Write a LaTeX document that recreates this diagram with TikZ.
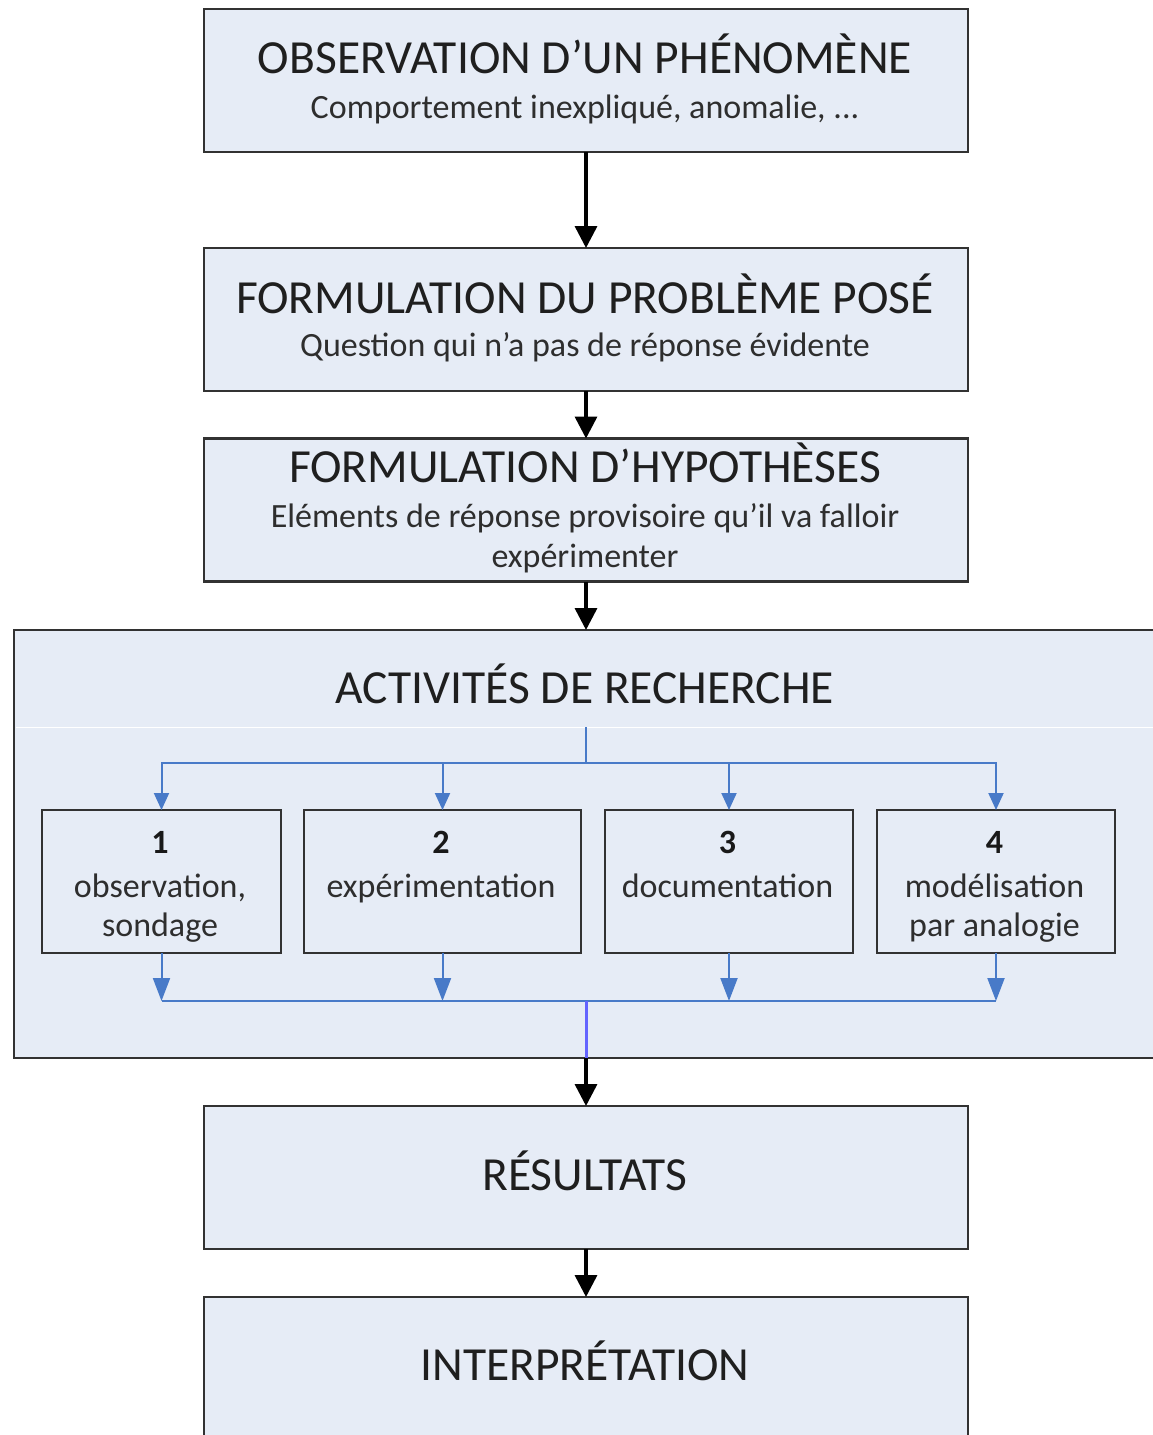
\documentclass[tikz,border=0pt]{standalone}
\usepackage{fontspec}
\setmainfont{Carlito}
\usetikzlibrary{arrows.meta}
\definecolor{boxfill}{RGB}{230,236,246}
\definecolor{boxdraw}{RGB}{50,50,50}
\definecolor{connblue}{RGB}{72,122,200}
\definecolor{violetline}{RGB}{100,100,255}
\begin{document}
\begin{tikzpicture}[x=1pt,y=-1pt,
 mainbox/.style={draw=boxdraw,fill=boxfill,line width=2.2pt,minimum width=764pt,minimum height=143pt,inner sep=0pt,outer sep=0pt},
 subbox/.style={draw=boxdraw,fill=boxfill,line width=2.2pt,minimum height=143pt,inner sep=0pt,outer sep=0pt},
 container/.style={draw=boxdraw,fill=boxfill,line width=2.2pt,minimum width=1156pt,minimum height=428pt,inner sep=0pt,outer sep=0pt},
 titletext/.style={anchor=base,inner sep=0pt,font=\fontsize{47.5}{52}\selectfont,text=black!88},
 subtext/.style={anchor=base,inner sep=0pt,font=\fontsize{34}{40}\selectfont,text=black!82},
 numtext/.style={anchor=base,inner sep=0pt,font=\fontsize{34}{40}\selectfont\bfseries,text=black!90},
 blackarrow/.style={draw=black,line width=3.5pt,-{Triangle[width=22pt,length=22pt]}},
 bluearrowin/.style={draw=connblue,line width=2pt,-{Triangle[width=15pt,length=17pt]}},
 bluearrowout/.style={draw=connblue,line width=2pt,-{Triangle[width=17pt,length=23pt]}},
 blueline/.style={draw=connblue,line width=2pt},
 violine/.style={draw=violetline,line width=3pt}]

\useasboundingbox (0,0) rectangle (1153,1435);
\fill[white] (0,0) rectangle (1153,1435);

% main boxes
\node[mainbox] (b1) at (586,80.5) {};
\node[mainbox] (b2) at (586,319.5) {};
\node[mainbox] (b3) at (586,510) {};
\node[container] (cont) at (592,844) {};
\node[mainbox] (res) at (586,1177.5) {};
\node[mainbox] (interp) at (586,1368.5) {};

% separator line in container
\coordinate (sepY) at (0,727);
\draw[white,line width=1pt] ([xshift=1.5pt]cont.west |- sepY) -- (cont.east |- sepY);

% sub boxes
\node[subbox,minimum width=239pt] (s1) at (161.5,881.5) {};
\node[subbox,minimum width=277pt] (s2) at (442.5,881.5) {};
\node[subbox,minimum width=248pt] (s3) at (729,881.5) {};
\node[subbox,minimum width=238pt] (s4) at (996,881.5) {};

% texts
\node[titletext] (t1) at (585,73) {OBSERVATION D’UN PHÉNOMÈNE};
\node[subtext] (u1) at (585,118) {Comportement inexpliqué, anomalie, ...};
\node[titletext] (t2) at (585,313) {FORMULATION DU PROBLÈME POSÉ};
\node[subtext] (u2) at (585,356) {Question qui n’a pas de réponse évidente};
\node[titletext] (t3) at (585,482) {FORMULATION D’HYPOTHÈSES};
\node[subtext] (u3a) at (585,527) {Eléments de réponse provisoire qu’il va falloir};
\node[subtext] (u3b) at (585,567) {expérimenter};
\node[titletext] (tc) at (585,703) {ACTIVITÉS DE RECHERCHE};
\node[titletext] (tr) at (585,1190) {RÉSULTATS};
\node[titletext] (ti) at (585,1380) {INTERPRÉTATION};

\node[numtext] (n1) at (160,853) {1};
\node[subtext] (l1a) at (160,897) {observation,};
\node[subtext] (l1b) at (160,936) {sondage};
\node[numtext] (n2) at (441,853) {2};
\node[subtext] (l2a) at (441,897) {expérimentation};
\node[numtext] (n3) at (727.5,853) {3};
\node[subtext] (l3a) at (727.5,897) {documentation};
\node[numtext] (n4) at (994.5,853) {4};
\node[subtext] (l4a) at (994.5,897) {modélisation};
\node[subtext] (l4b) at (994.5,936) {par analogie};

% black connectors
\draw[blackarrow] (b1.south) -- (b2.north);
\draw[blackarrow] (b2.south) -- (b3.north);
\draw[blackarrow] (b3.south) -- (b3.south |- cont.north);
\draw[blackarrow] (res.south) -- (interp.north);

% blue split
\coordinate (stemtop) at (586,727);
\coordinate (split) at (586,763);
\draw[blueline] (stemtop) -- (split);
\draw[bluearrowin] (split) -| (s1.north);
\draw[bluearrowin] (split) -| (s2.north);
\draw[bluearrowin] (split) -| (s3.north);
\draw[bluearrowin] (split) -| (s4.north);

% blue merge
\coordinate (merge) at (586,1001);
\draw[blueline] (s1.south |- merge) -- (s4.south |- merge);
\draw[bluearrowout] (s1.south) -- (s1.south |- merge);
\draw[bluearrowout] (s2.south) -- (s2.south |- merge);
\draw[bluearrowout] (s3.south) -- (s3.south |- merge);
\draw[bluearrowout] (s4.south) -- (s4.south |- merge);
\coordinate (contexit) at (merge |- cont.south);
\draw[violine] (merge) -- (contexit);
\draw[blackarrow] (contexit) -- (res.north);
\end{tikzpicture}
\end{document}
